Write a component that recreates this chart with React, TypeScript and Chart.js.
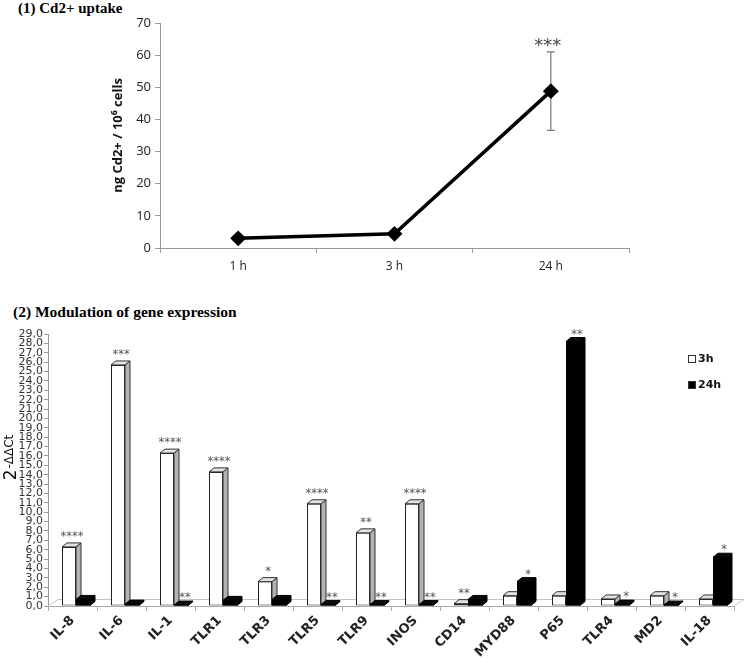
import React, { useEffect, useRef } from 'react';
import { Chart, registerables } from 'chart.js';
Chart.register(...registerables);

// ---- Panel (1): Cd2+ uptake ----
const timeLabels = ['1 h', '3 h', '24 h'];
const cdUptake = [3.0, 4.4, 48.8];
const cdError = [0, 0, 12.2];
const cdSignif = ['', '', '***'];

// ---- Panel (2): gene expression ----
const genes = ['IL-8', 'IL-6', 'IL-1', 'TLR1', 'TLR3', 'TLR5', 'TLR9', 'INOS', 'CD14', 'MYD88', 'P65', 'TLR4', 'MD2', 'IL-18'];
const expr3h = [6.3, 25.7, 16.3, 14.3, 2.6, 10.9, 7.8, 10.9, 0.25, 1.1, 1.1, 0.75, 1.1, 0.75];
const expr24h = [0.7, 0.2, 0.1, 0.6, 0.7, 0.15, 0.15, 0.15, 0.7, 2.6, 28.2, 0.2, 0.1, 5.2];
const sig3h = ['****', '***', '****', '****', '*', '****', '**', '****', '**', '', '', '', '', ''];
const sig24h = ['', '', '**', '', '', '**', '**', '**', '', '*', '**', '*', '*', '*'];
const seriesNames = ['3h', '24h'];

const DX = 5;
const DY = 4;

export default function App() {
  const topRef = useRef<HTMLCanvasElement>(null);
  const botRef = useRef<HTMLCanvasElement>(null);

  useEffect(() => {
    const errPlugin = {
      id: 'errbars',
      beforeDatasetsDraw(chart: any) {
        const ctx = chart.ctx;
        const meta = chart.getDatasetMeta(0);
        const y = chart.scales.y;
        ctx.save();
        meta.data.forEach((pt: any, i: number) => {
          const e = cdError[i];
          if (!e) return;
          const x = pt.x;
          const yt = y.getPixelForValue(cdUptake[i] + e);
          const yb = y.getPixelForValue(cdUptake[i] - e);
          ctx.strokeStyle = '#7a7a7a';
          ctx.lineWidth = 1.2;
          ctx.beginPath();
          ctx.moveTo(x, yt); ctx.lineTo(x, yb);
          ctx.moveTo(x - 4, yt); ctx.lineTo(x + 4, yt);
          ctx.moveTo(x - 4, yb); ctx.lineTo(x + 4, yb);
          ctx.stroke();
        });
        ctx.restore();
      },
      afterDatasetsDraw(chart: any) {
        const ctx = chart.ctx;
        const meta = chart.getDatasetMeta(0);
        const y = chart.scales.y;
        ctx.save();
        ctx.fillStyle = '#444';
        ctx.font = '18px "DejaVu Sans"';
        ctx.textAlign = 'center';
        ctx.textBaseline = 'alphabetic';
        meta.data.forEach((pt: any, i: number) => {
          if (!cdSignif[i]) return;
          const yt = y.getPixelForValue(cdUptake[i] + cdError[i]);
          ctx.fillText(cdSignif[i], pt.x - 3, yt - 1);
        });
        ctx.restore();
      },
    };

    const topChart = new Chart(topRef.current!, {
      type: 'line',
      data: {
        labels: timeLabels,
        datasets: [{
          data: cdUptake,
          borderColor: '#000',
          backgroundColor: '#000',
          borderWidth: 3.5,
          pointStyle: 'rectRot',
          pointRadius: 5.5,
          pointBackgroundColor: '#000',
          pointBorderColor: '#000',
          tension: 0,
          fill: false,
        }],
      },
      options: {
        responsive: false,
        animation: false,
        devicePixelRatio: 1,
        layout: { padding: { left: 105, top: 23, right: 117, bottom: 0 } },
        plugins: { legend: { display: false }, tooltip: { enabled: false } },
        scales: {
          x: {
            type: 'category',
            offset: true,
            grid: { offset: true, drawOnChartArea: false, drawTicks: true, tickLength: 5, color: '#999' },
            border: { color: '#999' },
            ticks: { color: '#222', font: { family: 'Open Sans', size: 12 }, padding: 6 },
            afterFit: (s: any) => { s.height = 37; },
          },
          y: {
            min: 0,
            max: 70,
            ticks: { stepSize: 10, color: '#222', font: { family: 'Open Sans', size: 13 }, padding: 4 },
            grid: { drawOnChartArea: false, tickLength: 5, color: '#999' },
            border: { color: '#999' },
            title: {
              display: true,
              text: 'ng Cd2+ / 10⁶ cells',
              color: '#111',
              font: { family: 'Open Sans', size: 13, weight: 'bold' },
              padding: { top: 5, bottom: 0 },
            },
            afterFit: (s: any) => { s.width = 55; },
          },
        },
      } as any,
      plugins: [errPlugin],
    });

    const bar3d = {
      id: 'bar3d',
      beforeDatasetsDraw(chart: any) {
        const ctx = chart.ctx;
        const ca = chart.chartArea;
        const y0 = chart.scales.y.getPixelForValue(0);
        ctx.save();
        ctx.strokeStyle = '#c4c4c4';
        ctx.lineWidth = 1;
        ctx.beginPath();
        ctx.moveTo(ca.left, y0);
        ctx.lineTo(ca.left + 10, y0 - 6.5);
        ctx.lineTo(ca.right + 10, y0 - 6.5);
        ctx.lineTo(ca.right, y0);
        ctx.stroke();
        ctx.restore();
      },
      afterDatasetsDraw(chart: any) {
        const ctx = chart.ctx;
        const faces = (el: any, sideFill: string, topFill: string, stroke: string) => {
          const p = el.getProps(['x', 'y', 'base', 'width'], true);
          const l = p.x - p.width / 2;
          const r = p.x + p.width / 2;
          const t = Math.min(p.y, p.base);
          const b = Math.max(p.y, p.base);
          ctx.save();
          ctx.lineWidth = 1;
          ctx.strokeStyle = stroke;
          ctx.fillStyle = sideFill;
          ctx.beginPath();
          ctx.moveTo(r, t); ctx.lineTo(r + DX, t - DY); ctx.lineTo(r + DX, b - DY); ctx.lineTo(r, b); ctx.closePath();
          ctx.fill(); ctx.stroke();
          ctx.fillStyle = topFill;
          ctx.beginPath();
          ctx.moveTo(l, t); ctx.lineTo(l + DX, t - DY); ctx.lineTo(r + DX, t - DY); ctx.lineTo(r, t); ctx.closePath();
          ctx.fill(); ctx.stroke();
          ctx.restore();
        };
        const white = chart.getDatasetMeta(1);
        const black = chart.getDatasetMeta(3);
        white.data.forEach((el: any) => faces(el, '#b2b2b2', '#e2e2e2', '#333'));
        black.data.forEach((el: any) => { el.draw(ctx); faces(el, '#000', '#0a0a0a', '#000'); });

        ctx.save();
        ctx.fillStyle = '#555';
        ctx.font = '11.5px "DejaVu Sans"';
        ctx.textAlign = 'center';
        ctx.textBaseline = 'alphabetic';
        white.data.forEach((el: any, i: number) => {
          if (sig3h[i]) ctx.fillText(sig3h[i], el.x + 3, el.y - 7);
        });
        black.data.forEach((el: any, i: number) => {
          if (sig24h[i]) ctx.fillText(sig24h[i], el.x + 4, el.y - 4);
        });
        ctx.restore();
      },
      afterDraw(chart: any) {
        const ctx = chart.ctx;
        const ca = chart.chartArea;
        ctx.save();
        // legend
        const lx = ca.right - 46;
        const fills = ['#fff', '#000'];
        ctx.font = 'bold 11px "DejaVu Sans"';
        ctx.textBaseline = 'middle';
        ctx.textAlign = 'left';
        seriesNames.forEach((name, i) => {
          const ly = ca.top + 25 + i * 26;
          ctx.fillStyle = fills[i];
          ctx.strokeStyle = '#333';
          ctx.lineWidth = 1;
          ctx.fillRect(lx + 0.5, ly - 3.5, 7, 7);
          ctx.strokeRect(lx + 0.5, ly - 3.5, 7, 7);
          ctx.fillStyle = '#111';
          ctx.fillText(name, lx + 10, ly);
        });
        // y axis title 2^-ΔΔCt
        ctx.translate(16, (ca.top + ca.bottom) / 2 - 12);
        ctx.rotate(-Math.PI / 2);
        ctx.textBaseline = 'alphabetic';
        ctx.fillStyle = '#111';
        ctx.font = '17px "DejaVu Sans"';
        const w1 = ctx.measureText('2').width;
        ctx.font = '12px "DejaVu Sans"';
        const sup = '-ΔΔCt';
        const w2 = ctx.measureText(sup).width;
        const start = -(w1 + w2) / 2;
        ctx.font = '17px "DejaVu Sans"';
        ctx.fillText('2', start, 0);
        ctx.font = '12px "DejaVu Sans"';
        ctx.fillText(sup, start + w1 + 1, -3);
        ctx.restore();
      },
    };

    const barCommon = { barPercentage: 2, categoryPercentage: 28 / 49 };
    const botChart = new Chart(botRef.current!, {
      type: 'bar',
      data: {
        labels: genes,
        datasets: [
          { label: '', data: [], ...barCommon },
          { label: seriesNames[0], data: expr3h, backgroundColor: '#fff', borderColor: '#222', borderWidth: 1, borderSkipped: false, ...barCommon },
          { label: '', data: [], ...barCommon },
          { label: seriesNames[1], data: expr24h, backgroundColor: '#000', borderColor: '#000', borderWidth: 0, ...barCommon },
        ],
      },
      options: {
        responsive: false,
        animation: false,
        devicePixelRatio: 1,
        layout: { padding: { left: 0, top: 14, right: 12, bottom: 0 } },
        plugins: { legend: { display: false }, tooltip: { enabled: false } },
        scales: {
          x: {
            offset: true,
            grid: { offset: true, drawOnChartArea: false, tickLength: 5, color: '#aaa' },
            border: { color: '#aaa' },
            ticks: {
              autoSkip: false,
              maxRotation: 45,
              minRotation: 45,
              color: '#222',
              font: { family: 'DejaVu Sans', size: 13, weight: 'bold' },
              padding: 2,
            },
            afterFit: (s: any) => { s.height = 52; },
          },
          y: {
            min: 0,
            max: 29,
            ticks: {
              stepSize: 1,
              autoSkip: false,
              color: '#333',
              font: { family: 'DejaVu Sans', size: 11 },
              padding: 1,
              callback: (v: any) => Number(v).toFixed(1).replace('.', ','),
            },
            grid: { drawOnChartArea: false, tickLength: 4, color: '#999' },
            border: { color: '#999' },
            afterFit: (s: any) => { s.width = 48; },
          },
        },
      } as any,
      plugins: [bar3d],
    });

    return () => {
      topChart.destroy();
      botChart.destroy();
    };
  }, []);

  return (
    <div style={{ position: 'absolute', left: 0, top: 0, width: 746, height: 658, background: '#fff', overflow: 'hidden' }}>
      <div style={{ position: 'absolute', left: 18, top: -1, font: 'bold 15px "Liberation Serif"', lineHeight: '18px', whiteSpace: 'nowrap', color: '#000' }}>
        (1) Cd2+ uptake
      </div>
      <canvas ref={topRef} width={746} height={285} style={{ position: 'absolute', left: 0, top: 0 }} />
      <div style={{ position: 'absolute', left: 13, top: 302, font: 'bold 15.5px "Liberation Serif"', lineHeight: '20px', whiteSpace: 'nowrap', color: '#000' }}>
        (2) Modulation of gene expression
      </div>
      <canvas ref={botRef} width={746} height={338} style={{ position: 'absolute', left: 0, top: 320 }} />
    </div>
  );
}
